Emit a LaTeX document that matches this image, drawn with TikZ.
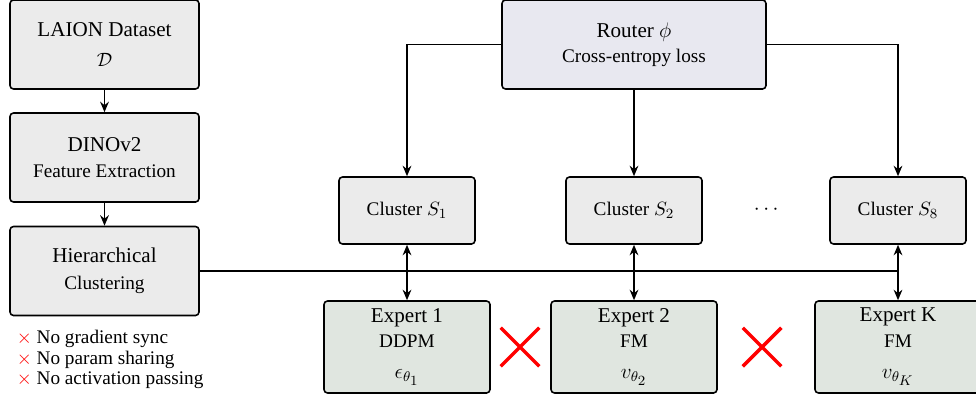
\documentclass[tikz,border=0pt,12pt]{standalone}
\usepackage{amsmath,amssymb}
\usepackage{fontspec}
\setmainfont{Liberation Serif}
\usetikzlibrary{arrows.meta,positioning,shapes.misc}

\definecolor{boxgray}{RGB}{235,235,235}
\definecolor{routerfill}{RGB}{232,232,240}
\definecolor{expertfill}{RGB}{224,230,224}

\begin{document}
\begin{tikzpicture}[
  stage/.style={draw,rounded corners=2pt,line width=0.9pt,fill=boxgray,align=center,
    minimum width=3.78cm,minimum height=1.78cm,inner sep=2pt},
  router/.style={stage,fill=routerfill,minimum width=5.28cm},
  cluster/.style={draw,rounded corners=2pt,line width=0.9pt,fill=boxgray,font=\small,
    minimum width=2.72cm,minimum height=1.34cm},
  expert/.style={stage,fill=expertfill,minimum width=3.32cm,minimum height=1.84cm},
  flow/.style={line width=0.75pt,-{Stealth[length=6pt,width=5pt,inset=2pt]}},
  both/.style={line width=0.75pt,{Stealth[length=6pt,width=5pt,inset=2pt]}-{Stealth[length=6pt,width=5pt,inset=2pt]}},
  nosync/.style={cross out,draw=red,line width=2pt,minimum size=0.7cm,inner sep=0pt},
  note/.style={anchor=west,font=\small,inner sep=0pt}]

\useasboundingbox (0,0) rectangle (19.52,7.96);

% --- pipeline ----------------------------------------------------------
\node[stage] (laion) at (2.09,7.07) {LAION Dataset\\[3pt]{\small $\mathcal{D}$}};
\node[stage] (dino) at (2.09,4.81) {DINOv2\\{\small Feature Extraction}};
\node[stage] (hier) at (2.09,2.54) {Hierarchical\\[1pt]{\small Clustering}};
\draw[flow] (laion) -- (dino);
\draw[flow] (dino) -- (hier);

% --- router and clusters -----------------------------------------------
\node[router] (router) at (12.68,7.07) {Router $\phi$\\{\small Cross-entropy loss}};
\node[cluster] (c1) at (8.14,3.75) {Cluster $S_{\scriptstyle 1}$};
\node[cluster] (c2) at (12.68,3.75) {Cluster $S_{\scriptstyle 2}$};
\node (dots) at (15.36,3.76) {$\cdots$};
\node[cluster] (c8) at (17.96,3.75) {Cluster $S_{\scriptstyle 8}$};
\draw[flow] (router.west) -| (c1.north);
\draw[flow] (router.south) -- (c2.north);
\draw[flow] (router.east) -| (c8.north);

% --- experts -----------------------------------------------------------
\node[expert] (e1) at (8.14,1.02) {Expert 1\\{\small DDPM}\\[3pt]$\epsilon_{\theta_{\scriptstyle 1}}$};
\node[expert] (e2) at (12.68,1.02) {Expert 2\\{\small FM}\\[3pt]$v_{\theta_{\scriptstyle 2}}$};
\node[expert] (ek) at (17.96,1.02) {Expert K\\{\small FM}\\[3pt]$v_{\theta_{\scriptstyle K}}$};
\node[nosync] (x1) at (10.4,1.02) {};
\node[nosync] (x2) at (15.24,1.02) {};

% --- assignment bus ----------------------------------------------------
\coordinate (bus) at (hier.east -| c8);
\draw[line width=1pt] (hier.east) -- (bus);
\draw[both] (c1.south) -- (e1.north);
\draw[both] (c2.south) -- (e2.north);
\draw[both] (c8.south) -- (ek.north);

% --- notes -------------------------------------------------------------
\node[note] (n1) at (0.33,1.18) {\textcolor{red}{$\times$} No gradient sync};
\node[note] (n2) at (0.33,0.77) {\textcolor{red}{$\times$} No param sharing};
\node[note] (n3) at (0.33,0.36) {\textcolor{red}{$\times$} No activation passing};
\end{tikzpicture}
\end{document}
